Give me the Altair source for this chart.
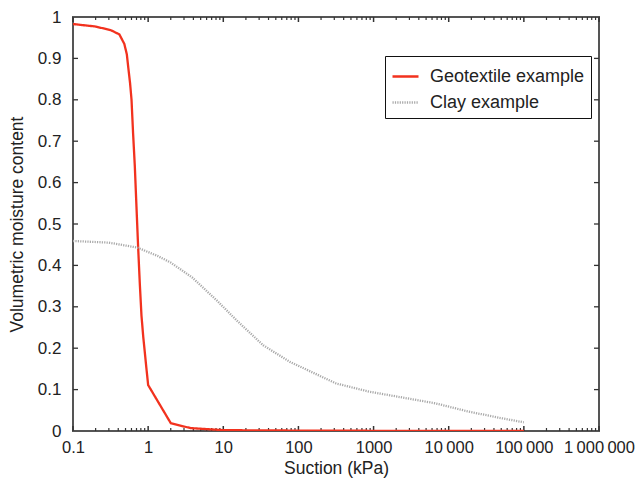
import altair as alt
import pandas as pd

# ---- data ----
series_names = ["Geotextile example", "Clay example"]

geo_x = [0.1, 0.2, 0.32, 0.414, 0.482, 0.52, 0.544, 0.575, 0.601, 0.63, 0.665, 0.70, 0.738, 0.775, 0.815, 0.86, 0.902, 0.95, 1.0, 2.0, 3.66, 10, 100, 1000, 10000, 100000]
geo_y = [0.983, 0.977, 0.968, 0.958, 0.935, 0.91, 0.878, 0.84, 0.80, 0.72, 0.639, 0.54, 0.439, 0.355, 0.279, 0.228, 0.191, 0.15, 0.111, 0.019, 0.007, 0.002, 0.001, 0.0005, 0.0, 0.0]

clay_x = [0.1, 0.3, 0.72, 1.33, 1.99, 3.85, 8.23, 15.1, 34, 77, 316, 874, 2400, 6600, 18300, 50000, 100000]
clay_y = [0.459, 0.455, 0.443, 0.423, 0.407, 0.371, 0.315, 0.267, 0.207, 0.167, 0.115, 0.095, 0.081, 0.067, 0.047, 0.031, 0.021]

x_ticks = [0.1, 1, 10, 100, 1000, 10000, 100000, 1000000]
x_tick_labels = ["0.1", "1", "10", "100", "1000", "10\u2009000", "100\u2009000", "1\u2009000\u2009000"]
x_minor = [d * m for d in [0.1, 1, 10, 100, 1000, 10000, 100000] for m in range(2, 10)]
y_ticks = [0, 0.1, 0.2, 0.3, 0.4, 0.5, 0.6, 0.7, 0.8, 0.9, 1.0]

colors = ["#f2321e", "#a9a9a9"]
dashes = [[1, 0], [1.2, 1.2]]

W, H = 526, 414
FONT = "Liberation Sans"
TICK = "#333333"

df = pd.concat([
    pd.DataFrame({"x": geo_x, "y": geo_y, "series": series_names[0]}),
    pd.DataFrame({"x": clay_x, "y": clay_y, "series": series_names[1]}),
])

label_expr = " : ".join(
    f"abs(datum.value - {v}) < {v * 1e-3} ? '{lab}'" for v, lab in zip(x_ticks, x_tick_labels)
) + " : ''"

xscale = alt.Scale(type="log", domain=[0.1, 1000000], nice=False)
yscale = alt.Scale(domain=[0, 1], nice=False)
xaxis = alt.Axis(values=x_ticks, labelExpr=label_expr, ticks=False, domain=False, grid=False,
                 title="Suction (kPa)", labelPadding=8, titlePadding=4, labelFlush=False,
                 labelFontSize=16.5)
yaxis = alt.Axis(values=y_ticks, format=".1~f", ticks=False, domain=False, grid=False,
                 title="Volumetric moisture content", labelPadding=12, titlePadding=11)


def xenc():
    return alt.X("x:Q", scale=xscale, axis=xaxis)


def yenc():
    return alt.Y("y:Q", scale=yscale, axis=yaxis)


lines = alt.Chart(df).mark_line(strokeWidth=2.3, clip=True).encode(
    x=xenc(),
    y=yenc(),
    color=alt.Color("series:N", scale=alt.Scale(domain=series_names, range=colors),
                    legend=alt.Legend(title=None, orient="none", legendX=312, legendY=39,
                                      strokeColor="#111", fillColor="white", padding=6,
                                      labelFont=FONT, labelFontSize=18, labelColor="#222",
                                      symbolType="stroke", symbolSize=676, symbolStrokeWidth=2.5,
                                      rowPadding=2, labelOffset=10)),
    strokeDash=alt.StrokeDash("series:N", scale=alt.Scale(domain=series_names, range=dashes),
                              legend=None),
    order=alt.Order("x:Q"),
)

xmaj_df = pd.DataFrame({"x": x_ticks})
xmin_df = pd.DataFrame({"x": x_minor})
y_df = pd.DataFrame({"y": y_ticks[1:-1]})


def xrule(data, y0, y1, w):
    return alt.Chart(data).mark_rule(color=TICK, strokeWidth=w).encode(
        x=xenc(), y=alt.value(y0), y2=alt.value(y1))


def yrule(x0, x1):
    return alt.Chart(y_df).mark_rule(color=TICK, strokeWidth=1.3).encode(
        y=yenc(), x=alt.value(x0), x2=alt.value(x1))


ticks = [
    xrule(xmaj_df, H, H - 5, 1.5),
    xrule(xmin_df, H, H - 3, 1.2),
    xrule(xmaj_df, 0, 5, 1.5),
    xrule(xmin_df, 0, 3, 1.2),
    yrule(0, 5),
    yrule(W, W - 5),
]

chart = alt.layer(*ticks, lines).properties(
    width=W, height=H,
    padding={"left": 65, "top": 9, "right": 36, "bottom": 47},
    autosize=alt.AutoSizeParams(type="none"),
).configure_view(
    stroke="#555555", strokeWidth=2
).configure_axis(
    labelFont=FONT, labelFontSize=17, labelColor="#222",
    titleFont=FONT, titleFontSize=17.5, titleColor="#222", titleFontWeight="normal",
)

chart.save("out.html", embed_options={"renderer": "svg", "actions": False})
